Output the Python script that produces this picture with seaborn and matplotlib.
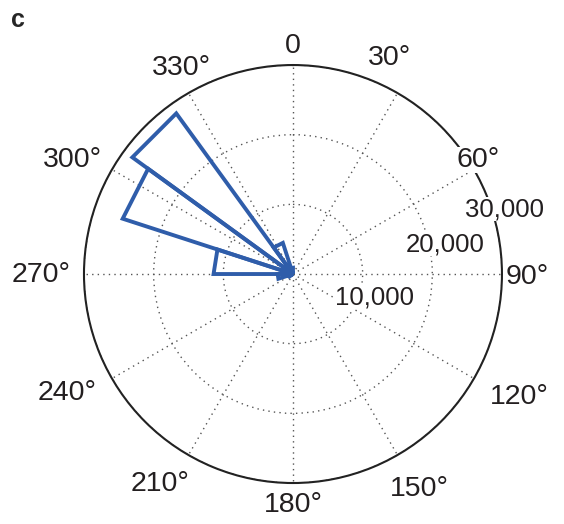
import numpy as np
import pandas as pd
import matplotlib
matplotlib.use("Agg")
import matplotlib.pyplot as plt
import seaborn as sns

sns.set_theme(style="white")
plt.rcParams["font.family"] = ["Liberation Sans", "DejaVu Sans"]

# Direction histogram: 18-degree bins starting at north, clockwise
bin_start_deg = [234, 252, 270, 288, 306, 324, 342]
counts = [600, 2200, 11400, 25700, 28500, 4700, 900]
bin_width_deg = 18

theta_ticks_deg = [0, 30, 60, 90, 120, 150, 180, 210, 240, 270, 300, 330]
theta_tick_labels = ["0"] + [f"{d}°" for d in theta_ticks_deg[1:]]
# hand-placed direction labels (direction in degrees, radius in data units)
theta_label_dir = [0, 24.1, 58.3, 90.7, 118.5, 149.5, 180, 212.4, 242.2, 269.8, 297.3, 331.6]
theta_label_r = [32700, 34000, 31200, 33700, 37000, 35800, 33200, 35700, 36700, 36100, 35700, 33600]

r_ticks = [10000, 20000, 30000]
r_tick_labels = ["10,000", "20,000", "30,000"]
r_label_theta = [106, 79, 73]
r_label_r = [12200, 22300, 31800]

df = pd.DataFrame({"start": bin_start_deg, "count": counts})
df["center"] = np.deg2rad(df["start"] + bin_width_deg / 2)

fig = plt.figure(figsize=(5.64, 5.24), dpi=100)
ax = fig.add_axes([0.1489, 0.0782, 0.7411, 0.7977], projection="polar")
ax.set_theta_zero_location("N")
ax.set_theta_direction(-1)

blue = "#2F5DAA"
bars = ax.bar(df["center"], df["count"], width=np.deg2rad(bin_width_deg),
              facecolor="none", edgecolor=blue, linewidth=2.8, zorder=3)
for patch in bars:
    # straight outer edges, sharp corners
    patch.get_path()._interpolation_steps = 1
    patch.set_joinstyle("miter")

ax.set_ylim(0, 30000)
ax.set_yticks(r_ticks)
ax.set_yticklabels([])
ax.set_xticks(np.deg2rad(theta_ticks_deg))
ax.set_xticklabels([])

ax.grid(True, linestyle=(0, (1, 3)), color="#555555", linewidth=1.0)
ax.spines["polar"].set_color("#222222")
ax.spines["polar"].set_linewidth(1.5)

label_box = dict(facecolor="white", edgecolor="none", pad=0.0)
for lab, th, rr in zip(theta_tick_labels, theta_label_dir, theta_label_r):
    ax.text(np.deg2rad(th), rr, lab, ha="center", va="center",
            fontsize=20.5, color="#231F20", clip_on=False, zorder=5, bbox=label_box)

for lab, th, rr in zip(r_tick_labels, r_label_theta, r_label_r):
    ax.text(np.deg2rad(th), rr, lab, ha="center", va="center",
            fontsize=18.5, color="#231F20", clip_on=False, zorder=5, bbox=label_box)

fig.text(0.032, 0.962, "c", fontsize=18, fontweight="bold", ha="center", va="center")

fig.savefig("out.png", dpi=100)
